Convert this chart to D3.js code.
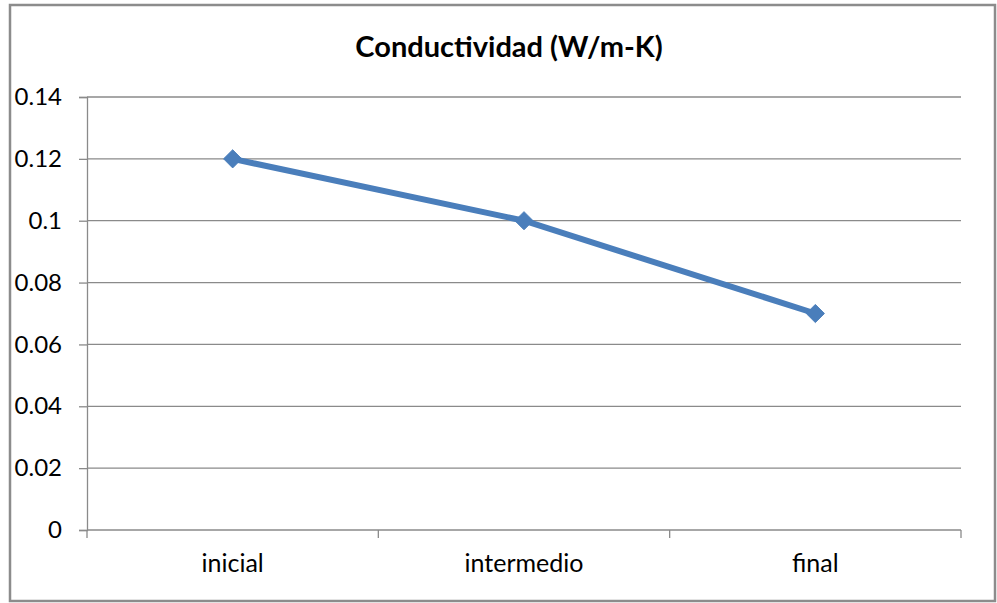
<!DOCTYPE html>
<html>
<head>
<meta charset="utf-8">
<script src="https://cdn.jsdelivr.net/npm/d3@7"></script>
<style>
  html, body { margin: 0; padding: 0; background: #fff; }
  svg { display: block; }
</style>
</head>
<body>
<svg id="chart" width="997" height="603"></svg>
<script>
// Conductividad térmica por etapa
const categories = ["inicial", "intermedio", "final"];
const values = [0.12, 0.10, 0.07];
const yTicks = [0, 0.02, 0.04, 0.06, 0.08, 0.1, 0.12, 0.14];
const titleText = "Conductividad (W/m-K)";

const svg = d3.select("#chart");
const W = 997, H = 603;
const font = "Lato, 'Open Sans', sans-serif";

// outer frame
svg.append("rect")
  .attr("x", 10).attr("y", 5)
  .attr("width", W - 12).attr("height", H - 7)
  .attr("fill", "#fff")
  .attr("stroke", "#8c8c8c")
  .attr("stroke-width", 2.5);

const plot = { left: 87, right: 961, top: 97, bottom: 530 };

const x = d3.scaleBand().domain(categories).range([plot.left, plot.right]);
const y = d3.scaleLinear().domain([0, 0.14]).range([plot.bottom, plot.top]);

// horizontal gridlines
svg.append("g")
  .selectAll("line")
  .data(yTicks.filter(d => d > 0))
  .join("line")
  .attr("x1", plot.left).attr("x2", plot.right)
  .attr("y1", d => y(d)).attr("y2", d => y(d))
  .attr("stroke", "#8a8a8a").attr("stroke-width", 1.3);

// y axis
const yAxis = svg.append("g")
  .attr("transform", `translate(${plot.left},0)`)
  .call(d3.axisLeft(y).tickValues(yTicks).tickSize(8).tickPadding(17)
    .tickFormat(d => d === 0 ? "0" : String(+d.toFixed(2))));
yAxis.select(".domain").attr("stroke", "#8a8a8a").attr("stroke-width", 1.3);
yAxis.selectAll(".tick line").attr("stroke", "#8a8a8a").attr("stroke-width", 1.3);
yAxis.selectAll(".tick text")
  .attr("fill", "#000").attr("font-family", font).attr("font-size", 24);

// x axis, ticks on band edges
const xAxisG = svg.append("g").attr("transform", `translate(0,${plot.bottom})`);
xAxisG.append("line")
  .attr("x1", plot.left).attr("x2", plot.right)
  .attr("stroke", "#8a8a8a").attr("stroke-width", 1.3);
const edges = categories.map(c => x(c)).concat([x(categories[categories.length - 1]) + x.bandwidth()]);
xAxisG.selectAll("line.tk")
  .data(edges)
  .join("line")
  .attr("class", "tk")
  .attr("x1", d => d).attr("x2", d => d)
  .attr("y1", 0).attr("y2", 8)
  .attr("stroke", "#8a8a8a").attr("stroke-width", 1.3);
xAxisG.selectAll("text")
  .data(categories)
  .join("text")
  .attr("x", d => x(d) + x.bandwidth() / 2)
  .attr("y", 42)
  .attr("text-anchor", "middle")
  .attr("font-family", font).attr("font-size", 25)
  .attr("fill", "#000")
  .text(d => d);

// series line
const px = d => x(d) + x.bandwidth() / 2;
const line = d3.line().x((d, i) => px(categories[i])).y(d => y(d));
svg.append("path")
  .datum(values)
  .attr("d", line)
  .attr("fill", "none")
  .attr("stroke", "#4a7ebb")
  .attr("stroke-width", 6)
  .attr("stroke-linejoin", "round");

// diamond markers
svg.append("g")
  .selectAll("path")
  .data(values)
  .join("path")
  .attr("transform", (d, i) => `translate(${px(categories[i])},${y(d)})`)
  .attr("d", d3.symbol().type(d3.symbolDiamond2).size(210))
  .attr("fill", "#4a7ebb")
  .attr("stroke", "#4a7ebb")
  .attr("stroke-width", 1);

// title
svg.append("text")
  .attr("x", 509).attr("y", 57)
  .attr("text-anchor", "middle")
  .attr("font-family", font).attr("font-weight", "bold").attr("font-size", 29)
  .attr("fill", "#000")
  .text(titleText);
</script>
</body>
</html>
